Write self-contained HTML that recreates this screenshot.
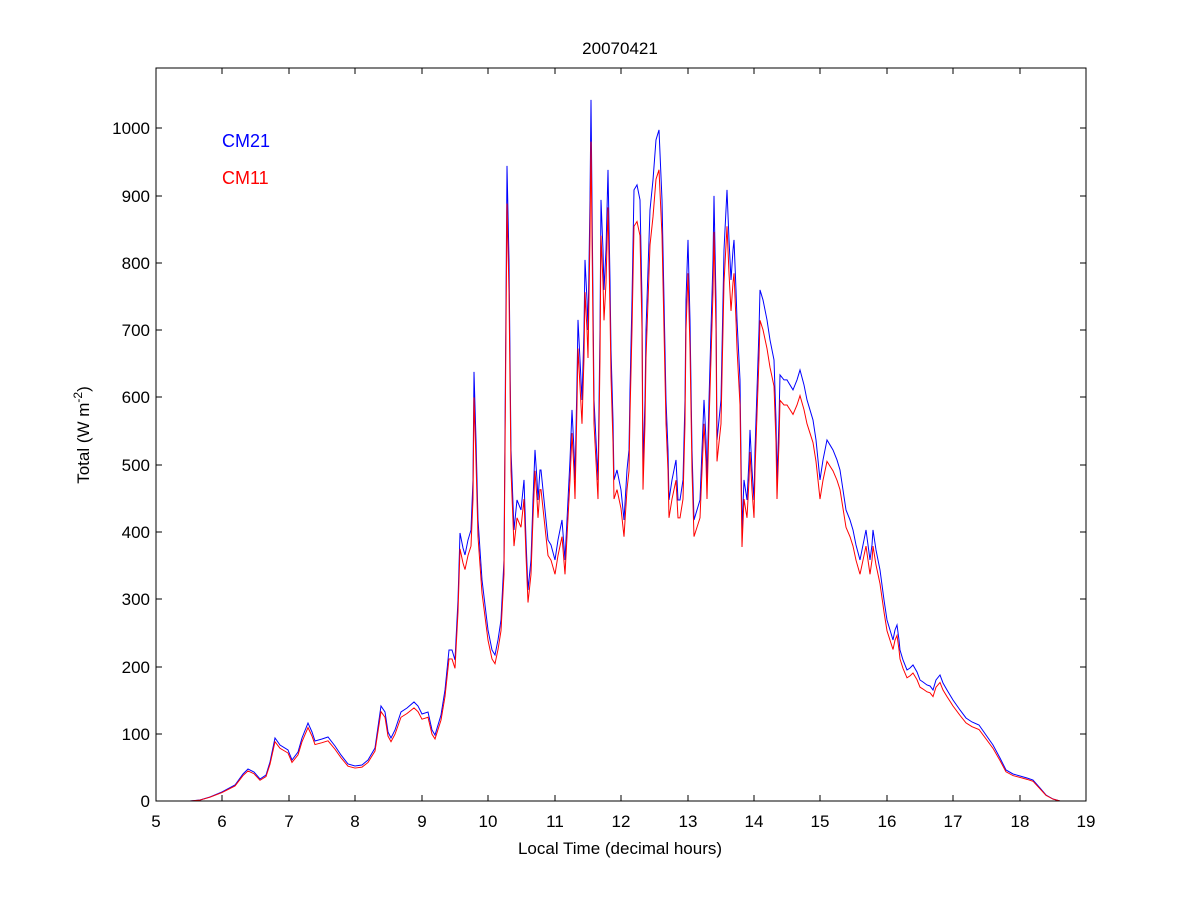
<!DOCTYPE html>
<html><head><meta charset="utf-8"><style>
html,body{margin:0;padding:0;background:#fff}
svg{display:block}
text{font-family:"Liberation Sans",Arial,sans-serif;font-size:17px;fill:#000}
</style></head><body>
<svg width="1200" height="900" viewBox="0 0 1200 900" xmlns="http://www.w3.org/2000/svg">
<rect width="1200" height="900" fill="#fff"/>
<defs>
<polyline id="d" fill="none" points="190,801 200,800 210,797 222,792 235,785 243,774 248,769 254,772 260,779 266,775 270,762 275,738 280,745 288,750 292,760 298,752 302,738 308,723 312,732 315,741 322,739 328,737 335,746 341,755 348,764 355,766 362,765 368,760 375,748 381,706 385,712 388,732 391,738 395,730 401,712 407,708 414,702 418,706 422,714 428,712 432,730 435,735 441,715 445,690 449,650 452,650 455,660 458,600 460,533 463,548 465,555 468,540 471,530 473,480 474,372 476,440 478,520 482,580 488,630 492,650 495,655 498,640 501,620 504,560 506,300 507,166 509,260 511,450 514,530 517,500 521,510 524,480 526,540 528,590 531,560 533,500 535,450 537,480 538,500 540,470 541,470 544,500 548,540 551,545 555,560 558,540 562,520 565,560 568,500 570,460 572,410 574,450 575,480 577,380 578,320 580,360 582,400 584,330 585,260 587,300 588,330 590,200 591,100 593,300 594,400 596,440 598,480 600,330 601,200 603,250 604,290 606,250 608,170 610,280 611,350 613,420 614,480 617,470 621,490 624,520 627,470 629,450 630,390 632,300 634,190 637,185 640,200 642,300 643,470 645,400 646,330 648,270 650,210 653,180 656,140 659,130 662,200 664,300 666,400 668,450 669,500 672,480 676,460 678,500 680,500 683,480 685,400 686,300 688,240 690,320 692,450 694,520 697,510 700,500 702,450 704,400 706,440 707,480 709,400 711,330 713,260 714,196 716,300 717,440 719,420 721,400 723,300 724,250 726,210 727,190 729,240 731,280 733,250 734,240 736,290 737,320 739,360 740,380 742,531 744,480 747,500 749,460 750,430 752,470 754,500 755,450 757,390 759,330 760,290 763,300 767,320 770,340 774,360 776,420 777,480 779,420 780,375 784,380 787,380 790,385 793,390 797,380 800,370 804,385 807,400 810,410 813,420 816,440 818,460 820,480 823,460 827,440 830,445 833,450 837,460 840,470 843,490 846,510 850,520 853,530 856,545 860,560 863,545 866,530 868,545 870,560 872,545 873,530 876,550 880,570 884,600 887,620 890,630 893,640 895,630 897,625 899,640 900,650 903,660 907,670 910,668 913,665 917,672 920,680 923,682 927,685 930,686 933,690 936,680 940,675 943,683 947,690 950,695 953,700 960,710 966,718 972,722 979,725 986,735 993,745 1000,758 1006,770 1013,774 1020,776 1027,778 1033,780 1040,788 1046,795 1053,799 1060,801"/>
</defs>
<g transform="translate(0,801) scale(1,0.94) translate(0,-801)">
<use href="#d" stroke="#0000ff" stroke-width="1" vector-effect="non-scaling-stroke" transform="translate(0,801) scale(1,1.064) translate(0,-801)"/>
</g>
<g transform="translate(0,801) scale(1,0.985) translate(0,-801)">
<use href="#d" stroke="#ff0000" stroke-width="1" vector-effect="non-scaling-stroke" transform="translate(0,801) scale(1,0.955) translate(0,-801)"/>
</g>
<rect x="156" y="68" width="930" height="733" fill="none" stroke="#000" stroke-width="1"/>
<g stroke="#000" stroke-width="1">
<path d="M156,801v-6M1086,801v-6M156,68v6M1086,68v6"/>
<path d="M222,801v-6M289,801v-6M355,801v-6M422,801v-6M488,801v-6M555,801v-6M621,801v-6M688,801v-6M754,801v-6M820,801v-6M887,801v-6M953,801v-6M1020,801v-6"/>
<path d="M222,68v6M289,68v6M355,68v6M422,68v6M488,68v6M555,68v6M621,68v6M688,68v6M754,68v6M820,68v6M887,68v6M953,68v6M1020,68v6"/>
<path d="M156,734h6M156,667h6M156,599h6M156,532h6M156,465h6M156,397h6M156,330h6M156,263h6M156,196h6M156,128h6"/>
<path d="M1086,734h-6M1086,667h-6M1086,599h-6M1086,532h-6M1086,465h-6M1086,397h-6M1086,330h-6M1086,263h-6M1086,196h-6M1086,128h-6"/>
</g>
<g text-anchor="middle">
<text x="156" y="827">5</text><text x="222" y="827">6</text><text x="289" y="827">7</text><text x="355" y="827">8</text><text x="422" y="827">9</text><text x="488" y="827">10</text><text x="555" y="827">11</text><text x="621" y="827">12</text><text x="688" y="827">13</text><text x="754" y="827">14</text><text x="820" y="827">15</text><text x="887" y="827">16</text><text x="953" y="827">17</text><text x="1020" y="827">18</text><text x="1086" y="827">19</text>
</g>
<g text-anchor="end">
<text x="150" y="807">0</text><text x="150" y="740">100</text><text x="150" y="673">200</text><text x="150" y="605">300</text><text x="150" y="538">400</text><text x="150" y="471">500</text><text x="150" y="403">600</text><text x="150" y="336">700</text><text x="150" y="269">800</text><text x="150" y="202">900</text><text x="150" y="134">1000</text>
</g>
<text x="620" y="54" text-anchor="middle">20070421</text>
<text x="620" y="854" text-anchor="middle">Local Time (decimal hours)</text>
<text transform="translate(89,435) rotate(-90)" text-anchor="middle">Total (W m<tspan dy="-7" font-size="12">-2</tspan><tspan dy="7">)</tspan></text>
<text x="222" y="147" style="fill:#0000ff;font-size:18px">CM21</text>
<text x="222" y="184" style="fill:#ff0000;font-size:18px">CM11</text>
</svg>
</body></html>
